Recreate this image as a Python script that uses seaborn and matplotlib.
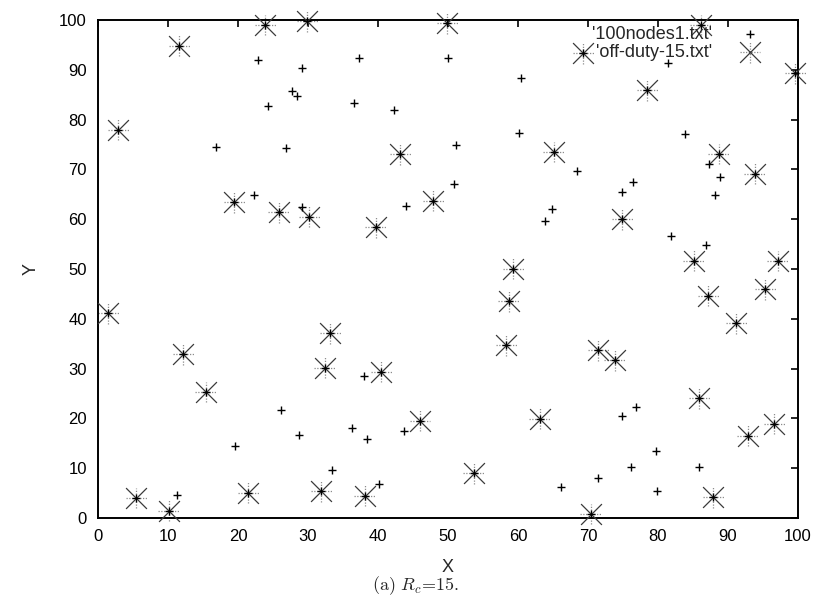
import matplotlib
matplotlib.use("Agg")
import matplotlib.pyplot as plt
import pandas as pd
import seaborn as sns
from matplotlib.legend_handler import HandlerTuple

# nodes that are only drawn with '+' (active nodes)
active_x = [22.9, 29.2, 27.7, 28.4, 24.3, 16.8, 26.9, 22.3, 29.1, 37.3, 50.0, 60.4,
            36.6, 42.3, 60.2, 51.1, 50.8, 81.5, 83.8, 68.4, 87.3, 88.8, 76.4, 74.8,
            88.1, 44.0, 64.9, 63.8, 81.8, 86.9, 38.0, 26.1, 28.7, 19.6, 33.5, 11.3,
            36.3, 38.5, 43.7, 40.1, 66.2, 76.8, 74.9, 79.7, 76.2, 85.9, 71.4, 79.9]
active_y = [92.0, 90.3, 85.7, 84.7, 82.7, 74.4, 74.2, 64.9, 62.5, 92.3, 92.3, 88.3,
            83.4, 81.9, 77.4, 74.8, 67.0, 91.3, 77.1, 69.6, 71.1, 68.4, 67.5, 65.5,
            64.8, 62.7, 62.0, 59.7, 56.6, 54.8, 28.5, 21.7, 16.7, 14.5, 9.6, 4.6,
            18.1, 15.8, 17.5, 6.8, 6.2, 22.3, 20.5, 13.5, 10.3, 10.3, 8.1, 5.5]

# off-duty nodes (also part of the 100 nodes)
offduty_x = [11.6, 23.9, 29.9, 2.9, 19.5, 25.8, 30.2, 49.9, 43.2, 65.1, 47.9, 86.1,
             69.3, 99.6, 78.5, 88.7, 93.8, 1.5, 12.2, 15.4, 32.4, 33.2, 39.7, 59.3,
             58.7, 58.3, 40.5, 74.9, 85.1, 97.1, 95.3, 87.2, 91.2, 71.5, 73.8, 85.9,
             5.5, 10.1, 21.5, 31.9, 46.0, 63.1, 38.1, 53.7, 92.8, 96.6, 87.9, 70.4]
offduty_y = [94.8, 99.0, 99.7, 78.0, 63.4, 61.4, 60.5, 99.3, 73.0, 73.5, 63.7, 99.0,
             93.3, 89.3, 85.9, 73.1, 69.1, 41.1, 32.9, 25.3, 30.2, 37.1, 58.4, 50.1,
             43.5, 34.7, 29.4, 60.0, 51.7, 51.6, 45.9, 44.6, 39.1, 33.7, 31.7, 24.0,
             4.0, 1.5, 5.1, 5.4, 19.5, 19.9, 4.5, 9.0, 16.5, 18.9, 4.2, 0.8]

x_ticks = [0, 10, 20, 30, 40, 50, 60, 70, 80, 90, 100]
y_ticks = [0, 10, 20, 30, 40, 50, 60, 70, 80, 90, 100]
series_labels = ["'100nodes1.txt'", "'off-duty-15.txt'"]
x_label = "X"
y_label = "Y"
caption = r"$\mathrm{(a)}\ R_c\!=\!\mathrm{15.}$"

nodes = pd.DataFrame({"x": active_x + offduty_x, "y": active_y + offduty_y})
off = pd.DataFrame({"x": offduty_x, "y": offduty_y})

sns.set_style("white")
plt.rcParams["font.family"] = ["Liberation Sans", "DejaVu Sans"]
plt.rcParams["mathtext.fontset"] = "cm"

fig = plt.figure(figsize=(8.2, 6.01), dpi=100)
ax = fig.add_axes([98 / 820, 1 - 518 / 601, 700 / 820, 498 / 601])

# off-duty star: dotted grey '+' and darker 'x'
sns.scatterplot(data=off, x="x", y="y", marker="+", s=225, color="#8c8c8c",
                edgecolor="#8c8c8c", linewidth=0.9, linestyle=(0, (1, 1.2)),
                ax=ax, zorder=2, clip_on=False, legend=False)
h_plus_star = ax.collections[-1]
sns.scatterplot(data=off, x="x", y="y", marker="x", s=225, color="#3a3a3a",
                edgecolor="#3a3a3a", linewidth=0.9, ax=ax, zorder=3,
                clip_on=False, legend=False)
h_x_star = ax.collections[-1]
# all nodes
sns.scatterplot(data=nodes, x="x", y="y", marker="+", s=30, color="black",
                edgecolor="black", linewidth=1.0, ax=ax, zorder=4,
                clip_on=False, legend=False)
h_nodes = ax.collections[-1]

ax.set_xlim(0, 100)
ax.set_ylim(0, 100)
ax.set_xticks(x_ticks)
ax.set_yticks(y_ticks)
ax.tick_params(direction="in", length=5, width=1.2, top=True, right=True,
               labelsize=12, pad=8, colors="black")
for sp in ax.spines.values():
    sp.set_linewidth(1.4)
    sp.set_color("black")
    sp.set_visible(True)

ax.set_xlabel(x_label, fontsize=13)
ax.set_ylabel(y_label, fontsize=13, rotation=90)
ax.xaxis.set_label_coords(0.5, -(559 - 518) / 498)
ax.yaxis.set_label_coords((40 - 98) / 700, 0.5)

leg = ax.legend(handles=[h_nodes, (h_plus_star, h_x_star)], labels=series_labels,
                handler_map={tuple: HandlerTuple(ndivide=1, pad=0)},
                loc="upper right", bbox_to_anchor=((768 - 98) / 700, 1 - 6 / 498),
                frameon=False, markerfirst=False, fontsize=13, handlelength=2.0,
                handletextpad=1.1, labelspacing=0.05, borderpad=0, borderaxespad=0)
for t in leg.get_texts():
    t.set_ha("right")

fig.text(416 / 820, 1 - 586 / 601, caption, ha="center", va="center", fontsize=13)

fig.savefig("out.png", dpi=100)
